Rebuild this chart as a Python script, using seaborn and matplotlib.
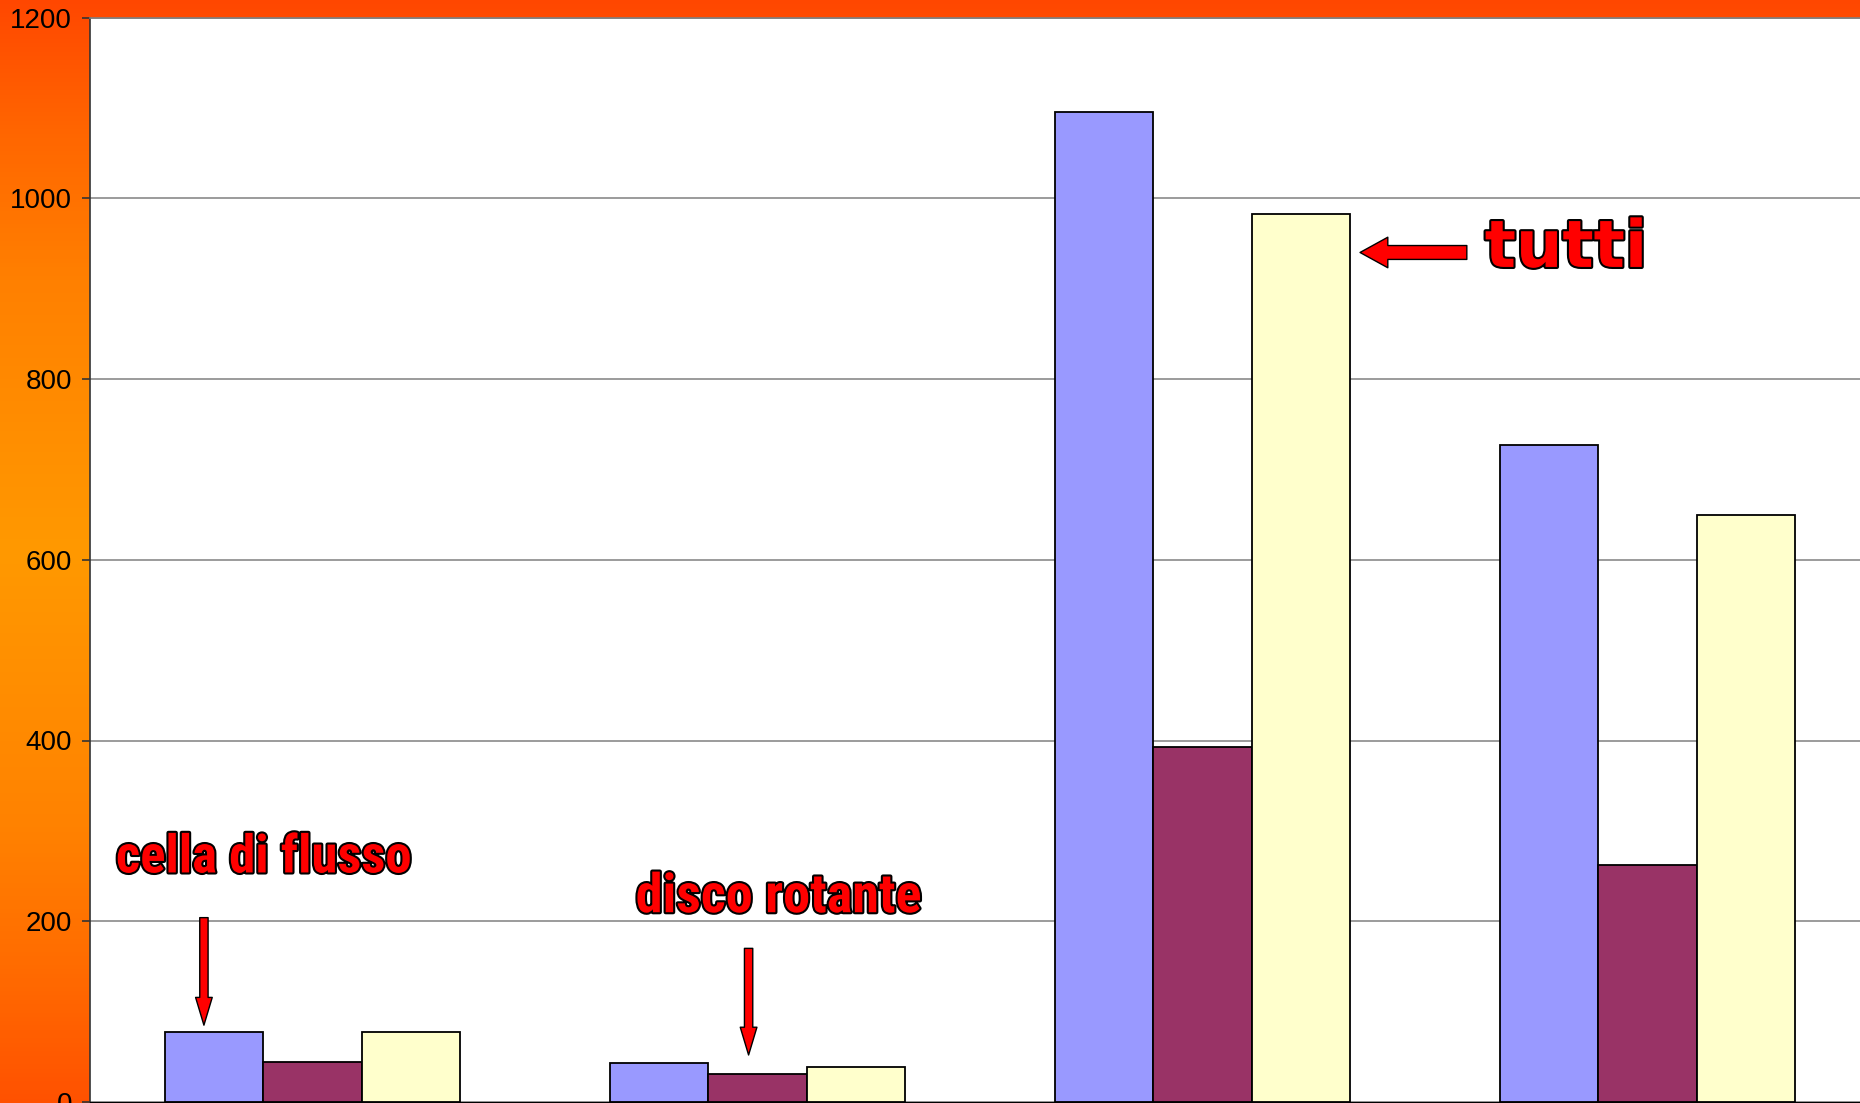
"""
plot.py
-------
Grouped bar chart (three series, four groups) on an orange gradient
background, with the red outlined callouts "cella di flusso",
"disco rotante" and "tutti".
"""

import numpy as np
import pandas as pd
import matplotlib
matplotlib.use("Agg")
import matplotlib.pyplot as plt
import matplotlib.patheffects as pe
from matplotlib.colors import LinearSegmentedColormap
import seaborn as sns

# ---- data ------------------------------------------------------------------
campioni = ["gruppo 1", "gruppo 2", "gruppo 3", "gruppo 4"]
serie = ["serie 1", "serie 2", "serie 3"]
serie_1 = [78, 43, 1095, 727]
serie_2 = [44, 31, 393, 262]
serie_3 = [78, 39, 983, 650]
y_ticks = [0, 200, 400, 600, 800, 1000, 1200]

colori = ["#9999FF", "#993366", "#FFFFCC"]

df = pd.DataFrame({
    "campione": campioni * 3,
    "serie": [s for s in serie for _ in campioni],
    "valore": serie_1 + serie_2 + serie_3,
})

W, H, DPI = 1860, 1103, 100
fig = plt.figure(figsize=(W / DPI, H / DPI), dpi=DPI)

# 1. orange gradient behind everything
bg = fig.add_axes([0, 0, 1, 1], zorder=0)
grad_cmap = LinearSegmentedColormap.from_list("bg", [
    (0.00, (1.00, 0.28, 0.00)),
    (0.12, (1.00, 0.40, 0.00)),
    (0.25, (1.00, 0.50, 0.00)),
    (0.50, (1.00, 0.60, 0.00)),
    (0.75, (1.00, 0.51, 0.00)),
    (0.88, (1.00, 0.42, 0.00)),
    (1.00, (1.00, 0.32, 0.00)),
])
bg.imshow(np.linspace(0, 1, 256)[:, None], aspect="auto", cmap=grad_cmap,
          extent=[0, 1, 0, 1], origin="upper")
bg.set_axis_off()

# 2. plot area (runs off the right and bottom edge like the original)
left = 90 / W
ax = fig.add_axes([left, 1 / H, 1 - left, 1084.5 / H], zorder=1)
ax.set_facecolor("white")

sns.barplot(
    data=df, x="campione", y="valore", hue="serie",
    palette=colori, saturation=1, width=0.665, gap=0,
    edgecolor="black", linewidth=1.3, errorbar=None,
    legend=False, ax=ax, zorder=3,
)

ax.set_ylim(0, 1200)
ax.set_xlim(-0.5, -0.5 + (W - 90) / 445)
ax.set_yticks(y_ticks)
ax.set_yticklabels([str(t) for t in y_ticks], fontsize=20,
                   family=["Liberation Sans", "DejaVu Sans"])
ax.tick_params(axis="y", direction="out", length=6, width=1.2,
               color="#333333", pad=7)
ax.tick_params(axis="x", bottom=False, labelbottom=False)
ax.set_xlabel("")
ax.set_ylabel("")
ax.yaxis.grid(True, color="#808080", linewidth=1.1, zorder=0)
ax.set_axisbelow(True)

ax.spines["left"].set_color("#333333")
ax.spines["left"].set_linewidth(1.2)
ax.spines["top"].set_color("#808080")
ax.spines["top"].set_linewidth(1.2)
ax.spines["bottom"].set_color("black")
ax.spines["right"].set_visible(False)

# 3. callouts
outline = [pe.withStroke(linewidth=3, foreground="black")]
narrow = ["Roboto Condensed", "Open Sans Condensed", "DejaVu Sans"]

ax.text(-0.109, 254, "cella di flusso", ha="center", va="baseline",
        fontsize=38, fontweight="bold", fontstretch="condensed",
        family=narrow, color="red", path_effects=outline, zorder=5)
ax.text(1.047, 210, "disco rotante", ha="center", va="baseline",
        fontsize=39, fontweight="bold", fontstretch="condensed",
        family=narrow, color="red", path_effects=outline, zorder=5)
ax.text(2.817, 924, "tutti", ha="center", va="baseline",
        fontsize=47, fontweight="bold", family=["DejaVu Sans"], color="red",
        path_effects=outline, zorder=5)

down = dict(arrowstyle="simple,head_length=1.0,head_width=0.6,tail_width=0.3",
            mutation_scale=20, fc="red", ec="black", lw=1,
            shrinkA=0, shrinkB=0)
ax.annotate("", xy=(-0.244, 85), xytext=(-0.244, 204), arrowprops=down,
            zorder=5)
ax.annotate("", xy=(0.980, 52), xytext=(0.980, 170), arrowprops=down,
            zorder=5)

side = dict(arrowstyle="simple,head_length=1.0,head_width=1.1,tail_width=0.5",
            mutation_scale=20, fc="red", ec="black", lw=1,
            shrinkA=0, shrinkB=0)
ax.annotate("", xy=(2.354, 940), xytext=(2.594, 940), arrowprops=side,
            zorder=5)

fig.savefig("out.png", dpi=DPI)
plt.close(fig)
